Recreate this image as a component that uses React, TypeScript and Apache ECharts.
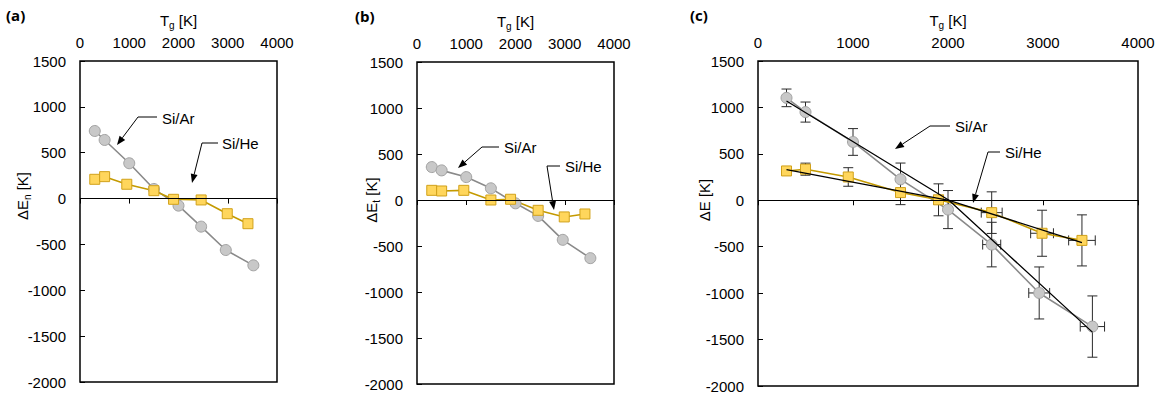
import React, { useEffect, useRef } from 'react';
import * as echarts from 'echarts';

// Gas temperature values (x) for the two systems
const tgAr = [300, 500, 1000, 1500, 2000, 2460, 2960, 3520];
const tgHe = [300, 500, 950, 1500, 1900, 2460, 2990, 3410];

// (a) ΔE_n
const dEnAr = [737, 639, 385, 105, -77, -306, -561, -728];
const dEnHe = [210, 239, 156, 86, -8, -15, -165, -274];
// (b) ΔE_t
const dEtAr = [358, 322, 249, 127, -36, -173, -433, -632];
const dEtHe = [105, 98, 105, 0, 8, -112, -184, -152];
// (c) ΔE with error bars
const dEAr = [1103, 950, 628, 226, -100, -477, -998, -1360];
const dEHe = [316, 335, 251, 83, 5, -133, -355, -432];
const errArY = [95, 108, 144, 175, 205, 240, 280, 330];
const errArX = [0, 0, 0, 0, 0, 95, 110, 128];
const errHeY = [45, 65, 100, 130, 172, 224, 248, 275];
const errHeX = [0, 0, 0, 0, 50, 110, 120, 140];
// (c) piecewise fits
const fitArT = [300, 2010, 3520];
const fitArE = [1069, 0, -1420];
const fitHeT = [300, 2010, 3410];
const fitHeE = [330, 0, -455];

const xMin = 0, xMax = 4000, xStep = 1000;
const yMin = -2000, yMax = 1500, yStep = 500;

const panelLabels = ['(a)', '(b)', '(c)'];
const yNames = ['{n|ΔE}{s|n}{n| [K]}', '{n|ΔE}{s|t}{n| [K]}', '{n|ΔE [K]}'];
const xName = '{n|T}{s|g}{n| [K]}';

const FONT = '"Liberation Sans", Arial, sans-serif';
const GRAY_LINE = '#8a8a8a';
const GRAY_FILL = '#c8c8c8';
const GRAY_EDGE = '#a2a2a2';
const GOLD_LINE = '#c49a00';
const GOLD_FILL = '#ffd65c';
const GOLD_EDGE = '#d1a11a';

const rich = {
  n: { fontSize: 15, fontFamily: FONT, color: '#000', lineHeight: 20 },
  s: { fontSize: 10, fontFamily: FONT, color: '#000', lineHeight: 10, verticalAlign: 'bottom' },
};

const grids = [
  { left: 80, top: 61, width: 197, height: 321 },
  { left: 417, top: 62, width: 197, height: 322 },
  { left: 758, top: 61, width: 380, height: 325 },
];

const pairs = (xs: number[], ys: number[]) => xs.map((x, i) => [x, ys[i]]);

function annot(pts: number[][], label: string, tx: number, ty: number) {
  const tip = pts[pts.length - 1];
  const prev = pts[pts.length - 2];
  const ang = Math.atan2(tip[1] - prev[1], tip[0] - prev[0]);
  const L = 9, W = 3.5;
  const bx = tip[0] - L * Math.cos(ang);
  const by = tip[1] - L * Math.sin(ang);
  const head = [
    tip,
    [bx + W * Math.sin(ang), by - W * Math.cos(ang)],
    [bx - W * Math.sin(ang), by + W * Math.cos(ang)],
  ];
  return [
    { type: 'polyline', z: 20, shape: { points: [...pts.slice(0, -1), [bx, by]] }, style: { stroke: '#000', lineWidth: 1, fill: null } },
    { type: 'polygon', z: 20, shape: { points: head }, style: { fill: '#000' } },
    { type: 'text', z: 20, x: tx, y: ty, style: { text: label, fontSize: 15, fontFamily: FONT, fill: '#000', align: 'left', verticalAlign: 'middle' } },
  ];
}

function errRender(params: any, api: any) {
  const x = api.value(0), y = api.value(1), ey = api.value(2), ex = api.value(3);
  const c = api.coord([x, y]);
  const st = { stroke: '#2a2a2a', lineWidth: 1 };
  const cap = 5;
  const children: any[] = [];
  if (ey > 0) {
    const t = api.coord([x, y + ey]);
    const b = api.coord([x, y - ey]);
    children.push({ type: 'line', shape: { x1: c[0], y1: t[1], x2: c[0], y2: b[1] }, style: st });
    children.push({ type: 'line', shape: { x1: c[0] - cap, y1: t[1], x2: c[0] + cap, y2: t[1] }, style: st });
    children.push({ type: 'line', shape: { x1: c[0] - cap, y1: b[1], x2: c[0] + cap, y2: b[1] }, style: st });
  }
  if (ex > 0) {
    const l = api.coord([x - ex, y]);
    const r = api.coord([x + ex, y]);
    children.push({ type: 'line', shape: { x1: l[0], y1: c[1], x2: r[0], y2: c[1] }, style: st });
    children.push({ type: 'line', shape: { x1: l[0], y1: c[1] - cap, x2: l[0], y2: c[1] + cap }, style: st });
    children.push({ type: 'line', shape: { x1: r[0], y1: c[1] - cap, x2: r[0], y2: c[1] + cap }, style: st });
  }
  return { type: 'group', children };
}

export default function App() {
  const ref = useRef<HTMLDivElement>(null);
  useEffect(() => {
    if (!ref.current) return;
    const chart = echarts.init(ref.current, undefined, { renderer: 'svg' });

    const arData = [dEnAr, dEtAr, dEAr];
    const heData = [dEnHe, dEtHe, dEHe];

    const series: any[] = [];
    for (let i = 0; i < 3; i++) {
      series.push({
        type: 'line', xAxisIndex: i, yAxisIndex: i, z: 3,
        data: pairs(tgAr, arData[i]),
        symbol: 'circle', symbolSize: 11,
        lineStyle: { color: GRAY_LINE, width: 1.6 },
        itemStyle: { color: GRAY_FILL, borderColor: GRAY_EDGE, borderWidth: 1 },
        markLine: {
          silent: true, symbol: 'none', label: { show: false },
          lineStyle: { color: '#000', width: 1, type: 'solid' },
          data: [{ yAxis: 0 }],
        },
      });
      series.push({
        type: 'line', xAxisIndex: i, yAxisIndex: i, z: 3,
        data: pairs(tgHe, heData[i]),
        symbol: 'rect', symbolSize: 10,
        lineStyle: { color: GOLD_LINE, width: 1.6 },
        itemStyle: { color: GOLD_FILL, borderColor: GOLD_EDGE, borderWidth: 1 },
      });
    }
    series.push({
      type: 'custom', xAxisIndex: 2, yAxisIndex: 2, z: 2,
      renderItem: errRender, encode: { x: 0, y: 1 },
      data: tgAr.map((t, k) => [t, dEAr[k], errArY[k], errArX[k]]),
    });
    series.push({
      type: 'custom', xAxisIndex: 2, yAxisIndex: 2, z: 2,
      renderItem: errRender, encode: { x: 0, y: 1 },
      data: tgHe.map((t, k) => [t, dEHe[k], errHeY[k], errHeX[k]]),
    });
    series.push({
      type: 'line', xAxisIndex: 2, yAxisIndex: 2, z: 5, symbol: 'none',
      data: pairs(fitArT, fitArE), lineStyle: { color: '#000', width: 1.3 },
    });
    series.push({
      type: 'line', xAxisIndex: 2, yAxisIndex: 2, z: 5, symbol: 'none',
      data: pairs(fitHeT, fitHeE), lineStyle: { color: '#000', width: 1.3 },
    });

    const yNamePos = [[22, 196], [371, 200], [704, 200]];
    const labelPos = [[6, 15], [355, 16], [690, 15]];

    const graphic: any[] = [];
    for (let i = 0; i < 3; i++) {
      graphic.push({
        type: 'text', x: yNamePos[i][0], y: yNamePos[i][1], rotation: Math.PI / 2,
        style: { text: yNames[i], rich, align: 'center', verticalAlign: 'middle', fill: '#000' },
      });
      graphic.push({
        type: 'text', x: labelPos[i][0], y: labelPos[i][1],
        style: { text: panelLabels[i], fontSize: 15, fontWeight: 'bold', fontFamily: '"Open Sans", "Liberation Sans", sans-serif', fill: '#000', align: 'left', verticalAlign: 'middle' },
      });
    }
    graphic.push(...annot([[157, 117], [138, 117], [117, 145]], 'Si/Ar', 162, 118));
    graphic.push(...annot([[218, 143], [202, 143], [192, 183]], 'Si/He', 222, 143));
    graphic.push(...annot([[499, 147], [482, 147], [458, 168]], 'Si/Ar', 504, 147));
    graphic.push(...annot([[560, 166], [547, 166], [554, 210]], 'Si/He', 565, 166));
    graphic.push(...annot([[950, 126], [930, 126], [895, 149]], 'Si/Ar', 955, 126));
    graphic.push(...annot([[1000, 152], [988, 152], [973, 203]], 'Si/He', 1005, 152));

    const fmt = (v: number) => String(v);

    chart.setOption({
      animation: false,
      textStyle: { fontFamily: FONT },
      grid: grids.map((g) => ({ ...g, show: true, borderColor: '#000', borderWidth: 1.5, backgroundColor: 'transparent', containLabel: false, outerBoundsMode: 'none' })),
      xAxis: grids.map((_, i) => ({
        gridIndex: i, type: 'value', min: xMin, max: xMax, interval: xStep, position: 'top',
        axisLine: { show: false },
        axisTick: { show: true, inside: true, length: 5, lineStyle: { color: '#000', width: 1 } },
        axisLabel: { fontSize: 15, color: '#000', fontFamily: FONT, margin: 11, formatter: fmt },
        splitLine: { show: false },
        name: xName, nameLocation: 'middle', nameGap: 30,
        nameTextStyle: { rich },
      })),
      yAxis: grids.map((_, i) => ({
        gridIndex: i, type: 'value', min: yMin, max: yMax, interval: yStep,
        axisLine: { show: false },
        axisTick: { show: true, inside: true, length: 5, lineStyle: { color: '#000', width: 1 } },
        axisLabel: { fontSize: 15, color: '#000', fontFamily: FONT, margin: 14, formatter: fmt },
        splitLine: { show: false },
      })),
      series,
      graphic,
    });
    return () => chart.dispose();
  }, []);
  return <div ref={ref} style={{ position: 'absolute', left: 0, top: 0, width: 1163, height: 395 }} />;
}
